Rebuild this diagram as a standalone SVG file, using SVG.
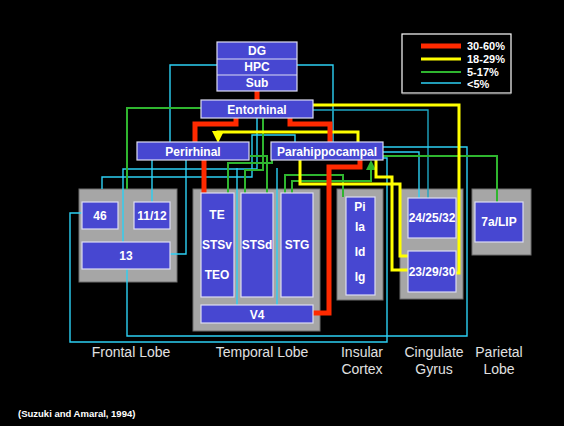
<svg xmlns="http://www.w3.org/2000/svg" width="564" height="426" viewBox="0 0 564 426">
<defs>
<style>
.bx{fill:#4747d1;stroke:#dcdcf2;stroke-width:1.2}
.ct{fill:#a6a6a6;stroke:#6e6e6e;stroke-width:1}
.t{font-family:"Liberation Sans",Arial,sans-serif;font-weight:bold;font-size:12px;fill:#ffffff;text-anchor:middle}
.lb{font-family:"Liberation Sans",Arial,sans-serif;font-size:14px;fill:#e0e0e0;text-anchor:middle}
.lg{font-family:"Liberation Sans",Arial,sans-serif;font-weight:bold;font-size:11px;fill:#ffffff}
.r{fill:none;stroke:#ff2a00;stroke-width:5}
.y{fill:none;stroke:#ffff00;stroke-width:3}
.g{fill:none;stroke:#2fb52f;stroke-width:2}
.c{fill:none;stroke:#2cd0f4;stroke-width:1.4}
.d{fill:none;stroke:#1fa6c2;stroke-width:1.4}
</style>
<marker id="ay" markerWidth="4" markerHeight="4" refX="2" refY="2" orient="auto" markerUnits="strokeWidth"><path d="M0,0 L4,2 L0,4 z" fill="#ffff00"/></marker>
<marker id="ag" markerWidth="5" markerHeight="5" refX="2.5" refY="2.5" orient="auto" markerUnits="strokeWidth"><path d="M0,0 L5,2.5 L0,5 z" fill="#2fb52f"/></marker>
</defs>
<rect width="564" height="426" fill="#000000"/>

<g id="legend">
<rect x="402" y="34" width="109" height="59" fill="none" stroke="#ffffff" stroke-width="1.2"/>
<line x1="402" y1="93.5" x2="511" y2="93.5" stroke="#888" stroke-width="1.5"/>
<line x1="421" y1="46" x2="461" y2="46" stroke="#ff2a00" stroke-width="5"/>
<line x1="421" y1="59" x2="461" y2="59" stroke="#ffff00" stroke-width="3"/>
<line x1="421" y1="72" x2="461" y2="72" stroke="#2fb52f" stroke-width="2"/>
<line x1="421" y1="83" x2="461" y2="83" stroke="#2cd0f4" stroke-width="1.4"/>
<text class="lg" x="467" y="50">30-60%</text>
<text class="lg" x="467" y="63">18-29%</text>
<text class="lg" x="467" y="76">5-17%</text>
<text class="lg" x="467" y="88">&lt;5%</text>
</g>

<g id="containers">
<rect class="ct" x="79" y="189" width="98" height="93"/>
<rect class="ct" x="193" y="189" width="127" height="142"/>
<rect class="ct" x="337" y="189" width="46" height="111"/>
<rect class="ct" x="400" y="189" width="63" height="110"/>
<rect class="ct" x="472" y="189" width="59" height="66"/>
</g>

<g id="connectors">
<!-- cyan -->
<path class="c" d="M217,65 H170 V142"/>
<path class="c" d="M297,65 H333 V142"/>
<path class="d" d="M313,110 H428 V198"/>
<path class="c" d="M383,147 H467 V336 H127 V269"/>
<path class="c" d="M383,158 H387 V342 H70 V213 H82"/>
<path class="c" d="M383,152 H419 V198"/>
<path class="c" d="M152,160 V202"/>
<path class="c" d="M186,160 V254 H170"/>
<path class="c" d="M295,142 V135 H252 V177 H102 V189"/>
<path class="c" d="M123,242 V169 H257 V118"/>
<path class="c" d="M237,168 V305"/>
<path class="c" d="M277,168 V305"/>
<!-- green -->
<path class="g" d="M201,108 H127 V189"/>
<path class="g" d="M383,156 H497 V202"/>
<path class="g" d="M250,156 H267 V193"/>
<path class="g" d="M228,193 V163 H272 V160"/>
<path class="g" d="M245,193 V170 H263 V118"/>
<path class="g" d="M285,193 V175 H343 V197"/>
<path class="g" d="M292,193 V181 H371 V165" marker-end="url(#ag)"/>
<!-- yellow -->
<path class="y" d="M313,105 H459 V273 H456"/>
<path class="y" d="M358,142 V132 H218 V137" marker-end="url(#ay)"/>
<path class="y" d="M376,160 V177 H392 V270 H408"/>
<path class="y" d="M300,160 V184 H400 V256 H408"/>
<!-- red -->
<path class="r" d="M257,91 V100"/>
<path class="r" d="M236,118 V124 H195 V142"/>
<path class="r" d="M204,160 V193"/>
<path class="r" d="M290,118 V124 H330 V142"/>
<path class="r" d="M360,160 V167 H329 V313 H313"/>
</g>

<g id="hpc"><rect class="bx" x="217" y="42" width="80" height="49"/><line x1="217" y1="59" x2="297" y2="59" stroke="#dcdcf2"/><line x1="217" y1="75" x2="297" y2="75" stroke="#dcdcf2"/>
<text class="t" x="257" y="55">DG</text><text class="t" x="257" y="71">HPC</text><text class="t" x="257" y="87">Sub</text></g>
<g id="entorhinal"><rect class="bx" x="201" y="100" width="112" height="18"/><text class="t" x="257" y="114">Entorhinal</text></g>
<g id="perirhinal"><rect class="bx" x="137" y="142" width="112" height="18"/><text class="t" x="193" y="156">Perirhinal</text></g>
<g id="parahippocampal"><rect class="bx" x="271" y="142" width="112" height="18"/><text class="t" x="327" y="156">Parahippocampal</text></g>
<g id="a46"><rect class="bx" x="82" y="202" width="36" height="27"/><text class="t" x="100" y="220">46</text></g>
<g id="a1112"><rect class="bx" x="134" y="202" width="36" height="27"/><text class="t" x="152" y="220">11/12</text></g>
<g id="a13"><rect class="bx" x="82" y="242" width="88" height="27"/><text class="t" x="126" y="260">13</text></g>
<g id="te"><rect class="bx" x="201" y="193" width="33" height="104"/><text class="t" x="217" y="219">TE</text><text class="t" x="217" y="249">STSv</text><text class="t" x="217" y="279">TEO</text></g>
<g id="stsd"><rect class="bx" x="241" y="193" width="32" height="104"/><text class="t" x="257" y="249">STSd</text></g>
<g id="stg"><rect class="bx" x="281" y="193" width="32" height="104"/><text class="t" x="297" y="249">STG</text></g>
<g id="v4"><rect class="bx" x="201" y="305" width="112" height="18"/><text class="t" x="257" y="319">V4</text></g>
<g id="insula"><rect class="bx" x="346" y="197" width="29" height="98"/><text class="t" x="360" y="211">Pi</text><text class="t" x="360" y="231">Ia</text><text class="t" x="360" y="256">Id</text><text class="t" x="360" y="281">Ig</text></g>
<g id="a242532"><rect class="bx" x="408" y="198" width="48" height="40"/><text class="t" x="432" y="222">24/25/32</text></g>
<g id="a232930"><rect class="bx" x="408" y="251" width="48" height="41"/><text class="t" x="432" y="276">23/29/30</text></g>
<g id="a7a"><rect class="bx" x="475" y="202" width="48" height="40"/><text class="t" x="499" y="226">7a/LIP</text></g>

<g id="labels">
<text class="lb" x="131" y="357">Frontal Lobe</text>
<text class="lb" x="262" y="357">Temporal Lobe</text>
<text class="lb" x="362" y="357">Insular</text>
<text class="lb" x="362" y="374">Cortex</text>
<text class="lb" x="434" y="357">Cingulate</text>
<text class="lb" x="434" y="374">Gyrus</text>
<text class="lb" x="499" y="357">Parietal</text>
<text class="lb" x="499" y="374">Lobe</text>
<text x="18" y="417" font-family="'Liberation Sans',Arial,sans-serif" font-weight="bold" font-size="9.5" fill="#ffffff">(Suzuki and Amaral, 1994)</text>
</g>
</svg>
